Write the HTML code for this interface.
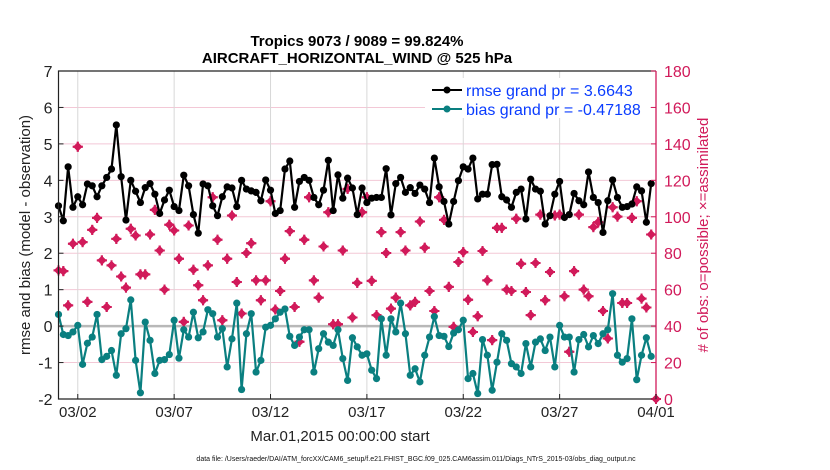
<!DOCTYPE html>
<html><head><meta charset="utf-8"><style>
html,body{margin:0;padding:0;background:#fff;}
svg{display:block;font-family:"Liberation Sans",Arial,sans-serif;}
</style></head><body>
<svg id="chart" width="830" height="470" viewBox="0 0 830 470" xmlns="http://www.w3.org/2000/svg">
<g id="grid"></g>
<g id="marks"></g>
<g id="axes"></g>
<text x="357" y="46" text-anchor="middle" font-size="15" font-weight="bold">Tropics 9073 / 9089 = 99.824%</text>
<text x="357" y="63" text-anchor="middle" font-size="15" font-weight="bold">AIRCRAFT_HORIZONTAL_WIND @ 525 hPa</text>
<text transform="translate(30,235) rotate(-90)" text-anchor="middle" font-size="15" fill="#222">rmse and bias (model - observation)</text>
<text transform="translate(708,235) rotate(-90)" text-anchor="middle" font-size="15" fill="#d11a5a"># of obs: o=possible; ×=assimilated</text>
<text x="340" y="441" text-anchor="middle" font-size="15" fill="#222">Mar.01,2015 00:00:00 start</text>
<text x="416" y="461" text-anchor="middle" font-size="7" fill="#111">data file: /Users/raeder/DAI/ATM_forcXX/CAM6_setup/f.e21.FHIST_BGC.f09_025.CAM6assim.011/Diags_NTrS_2015-03/obs_diag_output.nc</text>
<g>
<rect x="425" y="78" width="225" height="40" fill="#fff"/>
<g>
<line x1="432" y1="90" x2="462" y2="90" stroke="#000" stroke-width="2"/><circle cx="447" cy="90" r="3.5" fill="#000"/>
<text x="466" y="96" font-size="16" fill="#0a3cff">rmse grand pr = 3.6643</text></g>
<g>
<line x1="432" y1="109" x2="462" y2="109" stroke="#0a7f80" stroke-width="2"/><circle cx="447" cy="109" r="3.5" fill="#0a7f80"/>
<text x="466" y="115" font-size="16" fill="#0a3cff">bias grand pr = -0.47188</text></g>
</g>
</svg>
<script>
const rmse=[3.30,2.89,4.37,3.26,3.55,3.33,3.90,3.85,3.55,3.85,4.08,4.31,5.52,4.10,2.91,4.00,3.70,3.39,3.80,3.91,3.62,3.09,3.46,3.73,3.28,3.17,4.14,3.85,3.06,2.55,3.90,3.85,
3.30,3.03,3.55,3.82,3.79,3.28,4.00,3.76,3.71,3.67,3.44,4.01,3.73,3.09,3.17,4.31,4.53,3.26,3.97,4.08,4.00,3.53,3.33,3.73,4.55,3.17,4.15,3.51,4.06,3.79,3.06,
3.79,3.39,3.51,3.53,3.53,4.32,3.05,3.91,4.08,3.67,3.80,3.64,3.87,3.76,3.39,4.61,3.82,3.42,2.80,3.42,3.99,4.37,4.31,4.61,3.49,3.62,3.62,4.43,4.44,3.55,3.46,
3.26,3.67,3.76,2.94,4.03,3.76,3.70,2.80,3.03,3.62,3.97,2.98,3.06,3.64,3.44,3.33,4.23,3.53,3.39,2.57,3.44,4.01,3.53,3.26,3.28,3.35,3.82,3.71,2.85,3.91,null];
const bias=[0.32,-0.23,-0.26,-0.16,0.02,-1.05,-0.47,-0.30,0.32,-0.92,-0.83,-0.67,-1.35,-0.21,-0.07,0.72,-0.94,-1.83,0.11,-0.39,-1.30,-0.94,-0.92,-0.78,0.16,-0.88,-0.10,-0.30,0.38,-0.32,-0.16,0.45,
0.34,-0.30,-0.07,-1.12,-0.35,0.63,-1.74,-0.21,0.34,-1.26,-0.94,-0.03,0.02,0.20,0.38,0.47,-0.28,-0.53,-0.30,-0.10,-0.10,-1.26,-0.62,-0.21,-0.44,-0.53,-0.10,-0.89,-1.49,-0.32,-0.57,
-0.80,-0.76,-1.21,-1.44,0.20,-0.80,0.20,-0.16,0.63,-0.21,-1.35,-1.17,-1.53,-0.80,-0.30,0.26,-0.26,-0.28,-0.56,-0.19,-0.10,0.16,-1.44,-1.30,-1.85,-0.37,-0.80,-1.76,-0.99,-0.21,-0.39,
-1.03,-1.12,-1.30,-0.48,-1.12,-0.44,-0.35,-0.67,-0.30,-1.12,0.02,-0.30,-0.30,-1.26,-0.37,-0.23,-0.57,-0.26,-0.48,-0.21,-0.10,0.89,-0.80,-0.99,-0.89,0.20,-1.47,-0.80,-0.32,-0.83,null];
const nposs=[70.6,70.2,51.4,85.2,138.4,86.1,53.3,92.8,99.4,76.1,50.5,73.3,87.9,67.2,61.1,93.4,89.7,68.4,68.4,90.3,103.8,81.5,60.0,95.6,92.5,77.0,42.3,95.2,70.9,62.4,54.2,73.3,
110.7,87.4,43.2,77.0,100.7,64.2,46.9,80.1,85.5,65.1,54.2,65.1,108.5,49.1,59.3,77.0,92.1,50.5,31.4,87.4,110.7,65.1,55.6,83.7,102.5,41.0,41.0,81.5,115.3,44.7,63.7,
102.5,110.7,64.8,46.0,91.6,80.1,49.6,55.6,91.6,81.5,51.4,53.3,97.4,83.0,59.3,48.3,110.7,98.3,61.5,39.6,75.2,80.6,54.5,36.8,45.4,81.2,65.1,32.3,93.9,93.9,60.0,
59.3,98.9,74.2,58.7,46.0,74.6,101.2,54.2,69.7,100.7,101.2,56.4,25.9,70.2,101.2,60.0,56.4,94.3,97.0,48.3,33.2,105.2,100.1,52.7,52.7,99.4,108.5,55.1,50.2,90.3,0];
const nassim=nposs.slice();
const xTickLabels=["03/02","03/07","03/12","03/17","03/22","03/27","04/01"];
const xTickDays=[1,6,11,16,21,26,31];
const yTicks=[7,6,5,4,3,2,1,0,-1,-2];
const y2Ticks=[0,20,40,60,80,100,120,140,160,180];

const NS="http://www.w3.org/2000/svg";
const L=58.5,R=656,T=71,B=399;
const xs=d=>L+(R-L)*d/31;
const ys=v=>T+(B-T)*(7-v)/9;
const y2s=c=>B-(B-T)*c/180;
const RED="#d11a5a",TEAL="#0a7f80";
function mk(tag,attrs,parent){const e=document.createElementNS(NS,tag);for(const k in attrs)e.setAttribute(k,attrs[k]);parent.appendChild(e);return e;}
const grid=document.getElementById('grid'),marks=document.getElementById('marks'),axes=document.getElementById('axes');

yTicks.forEach(v=>{
  const g=mk('line',{x1:L,x2:R,y1:ys(v),y2:ys(v),stroke:'#f3c8d6','stroke-width':1},grid);
  
  
});
xTickDays.forEach(d=>{
  const g=mk('line',{x1:xs(d),x2:xs(d),y1:T,y2:B,stroke:'#d8d8d8','stroke-width':1},grid);
  
  
});
const zl=mk('line',{x1:L,x2:R,y1:ys(0),y2:ys(0),stroke:'#b8b8b8','stroke-width':2.5},grid);



function star(c,x,y,name){
  const g=mk('g',{},marks);
  
  
  mk('path',{d:`M${x-4.6},${y}L${x},${y-4.6}L${x+4.6},${y}L${x},${y+4.6}Z`,fill:c},g);
  mk('path',{d:`M${x-5},${y}H${x+5}M${x},${y-5}V${y+5}`,stroke:c,'stroke-width':2},g);
}
nposs.forEach((c,i)=>{ if(c!=null) star(RED,xs(i*0.25),y2s(c),'count-possible-marker'); });
nassim.forEach((c,i)=>{ if(c!=null) star(RED,xs(i*0.25),y2s(c),'count-assimilated-marker'); });

function series(arr,color,name){
  let d='';let pen=false;
  arr.forEach((v,i)=>{ if(v==null){pen=false;return;} d+=(pen?'L':'M')+xs(i*0.25).toFixed(2)+','+ys(v).toFixed(2); pen=true; });
  const p=mk('path',{d:d,fill:'none',stroke:color,'stroke-width':2.2,'stroke-linejoin':'round'},marks);
  
  
  arr.forEach((v,i)=>{ if(v==null)return;
    const c=mk('circle',{cx:xs(i*0.25),cy:ys(v),r:3.6,fill:color},marks);
    
    
  });
}
series(bias,TEAL,'bias');
series(rmse,'#000','rmse');

const bx=mk('path',{d:`M${R},${T}H${L}V${B}H${R}`,fill:'none',stroke:'#222','stroke-width':1.2},axes);


const ra=mk('line',{x1:R,x2:R,y1:T,y2:B,stroke:RED,'stroke-width':1.3},axes);


yTicks.forEach(v=>{
  mk('line',{x1:L,x2:L+5,y1:ys(v),y2:ys(v),stroke:'#222'},axes);
  const t=mk('text',{x:L-6,y:ys(v)+6,'text-anchor':'end','font-size':16,fill:'#222'},axes);
  t.textContent=v;
  
  
});
y2Ticks.forEach(c=>{
  mk('line',{x1:R-5,x2:R,y1:y2s(c),y2:y2s(c),stroke:RED},axes);
  const t=mk('text',{x:R+8,y:y2s(c)+6,'font-size':16,fill:RED},axes);
  t.textContent=c;
  
  
});
xTickDays.forEach((d,i)=>{
  mk('line',{x1:xs(d),x2:xs(d),y1:B,y2:B-5,stroke:'#222'},axes);
  const t=mk('text',{x:xs(d),y:B+18,'text-anchor':'middle','font-size':15,fill:'#222'},axes);
  t.textContent=xTickLabels[i];
  
  
});
</script>
</body></html>
